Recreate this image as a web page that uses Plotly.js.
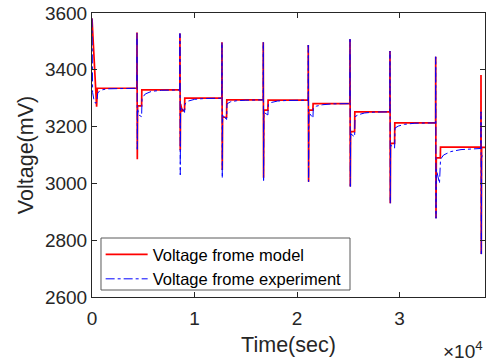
<!DOCTYPE html>
<html>
<head>
<meta charset="utf-8">
<script src="https://cdn.plot.ly/plotly-3.0.1.min.js"></script>
<style>html,body{margin:0;padding:0;background:#fff;}#chart{width:490px;height:363px;}</style>
</head>
<body>
<div id="chart"></div>
<script>
// Model voltage (mV) vs time (s)
var modelTime = [0, 450, 520,
  4380, 4390, 4420, 4450, 4840, 4860,
  8570, 8580, 8610, 8640, 8800, 9030, 9050,
  12670, 12680, 12710, 12740, 13130, 13150,
  16700, 16710, 16740, 16770, 17160, 17180,
  21090, 21100, 21130, 21160, 21550, 21570,
  25160, 25170, 25200, 25230, 25620, 25640,
  29060, 29070, 29100, 29130, 29520, 29540,
  33520, 33530, 33560, 33590, 33980, 34000,
  37940, 37950, 37980, 38010, 38400];
var modelVolt = [3581, 3270, 3335,
  3335, 3531, 3085, 3273, 3273, 3329,
  3329, 3528, 3117, 3280, 3255, 3260, 3300,
  3300, 3497, 3047, 3233, 3233, 3294,
  3294, 3497, 3020, 3258, 3258, 3293,
  3293, 3487, 3006, 3258, 3258, 3281,
  3281, 3508, 2989, 3182, 3182, 3252,
  3252, 3466, 2930, 3141, 3141, 3213,
  3213, 3446, 2877, 3090, 3090, 3128,
  3128, 3382, 2751, 3127, 3127];

// Experimental voltage (mV) vs time (s)
var expTime = [0, 60, 200, 350, 480, 560, 800, 1500,
  4380, 4390, 4420, 4450, 4600, 4840, 4880, 5200, 5800, 6800,
  8570, 8580, 8610, 8640, 8800, 9030, 9070, 9400, 10000, 11000,
  12670, 12680, 12710, 12740, 13130, 13170, 13500, 14100, 15000,
  16700, 16710, 16740, 16770, 17160, 17200, 17500, 18100, 19000,
  21090, 21100, 21130, 21160, 21550, 21590, 21900, 22500, 23400,
  25160, 25170, 25200, 25230, 25620, 25660, 26000, 26600, 27500,
  29060, 29070, 29100, 29130, 29520, 29560, 29900, 30500, 31500,
  33520, 33530, 33560, 33590, 33900, 34000, 34300, 35000, 36000, 37000,
  37940, 37950, 37980, 38010, 38400];
var expVolt = [3581, 3320, 3292, 3282, 3290, 3318, 3328, 3333,
  3335, 3530, 3120, 3260, 3240, 3235, 3300, 3315, 3324, 3328,
  3329, 3528, 3030, 3270, 3262, 3250, 3280, 3290, 3296, 3299,
  3300, 3497, 3018, 3240, 3225, 3280, 3287, 3291, 3293,
  3294, 3497, 3010, 3250, 3241, 3278, 3285, 3290, 3292,
  3293, 3487, 3006, 3250, 3230, 3265, 3272, 3277, 3280,
  3281, 3508, 2989, 3175, 3164, 3235, 3242, 3248, 3251,
  3252, 3466, 2930, 3135, 3124, 3195, 3202, 3208, 3212,
  3213, 3446, 2877, 3050, 3000, 3085, 3100, 3112, 3119, 3122,
  3123, 3252, 2751, 3095, 3102];

var xTickVals = [0, 10000, 20000, 30000];
var xTickText = ['0', '1', '2', '3'];
var yTickVals = [2600, 2800, 3000, 3200, 3400, 3600];

var axisColor = '#262626';
var traces = [
  {x: modelTime, y: modelVolt, type: 'scatter', mode: 'lines', name: 'Voltage frome model',
   line: {color: '#ff0000', width: 1.7}},
  {x: expTime, y: expVolt, type: 'scatter', mode: 'lines', name: 'Voltage frome experiment',
   line: {color: '#0000ff', width: 1, dash: 'dashdot'}}
];
var layout = {
  width: 490, height: 363,
  margin: {l: 92, r: 5, t: 13, b: 66},
  paper_bgcolor: '#fff', plot_bgcolor: '#fff',
  font: {family: 'Liberation Sans, Arial, sans-serif', color: axisColor},
  showlegend: true,
  legend: {x: 0.022, y: 0.003, xanchor: 'left', yanchor: 'bottom',
    bgcolor: 'rgba(0,0,0,0)', borderwidth: 0,
    font: {size: 16.5, color: '#000'}, itemwidth: 42, tracegroupgap: 0},
  shapes: [{type: 'rect', xref: 'paper', yref: 'paper', x0: 0.0229, x1: 0.6565, y0: 0.0246, y1: 0.2077,
    line: {color: '#5a5a5a', width: 1}, fillcolor: '#ffffff', layer: 'above'}],
  xaxis: {range: [0, 38340], tickvals: xTickVals, ticktext: xTickText,
    ticks: 'inside', ticklen: 5, tickcolor: axisColor, showline: true, linecolor: axisColor, linewidth: 1,
    mirror: 'ticks', showgrid: false, zeroline: false, tickfont: {size: 19}, ticklabelstandoff: 4,
    title: {text: 'Time(sec)', font: {size: 21.5}, standoff: 9}},
  yaxis: {range: [2600, 3600], tickvals: yTickVals,
    ticks: 'inside', ticklen: 5, tickcolor: axisColor, showline: true, linecolor: axisColor, linewidth: 1,
    mirror: 'ticks', showgrid: false, zeroline: false, tickfont: {size: 19},
    title: {text: 'Voltage(mV)', font: {size: 21.5}, standoff: 5}},
  annotations: [{xref: 'paper', yref: 'paper', x: 1.0, y: -0.187, xanchor: 'right', yanchor: 'middle',
    text: '×10<sup>4</sup>', showarrow: false, font: {size: 19, color: axisColor}}]
};
Plotly.newPlot('chart', traces, layout, {displayModeBar: false, staticPlot: true});
</script>
</body>
</html>
